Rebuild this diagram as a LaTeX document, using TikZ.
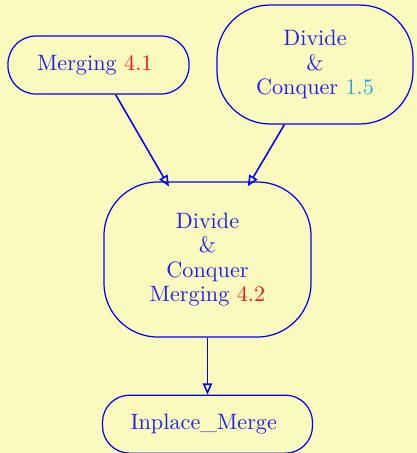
\documentclass[tikz,border=0pt]{standalone}
\usepackage{tikz}
\usepackage{xcolor}
\usetikzlibrary{arrows.meta, positioning}

\definecolor{bgyellow}{RGB}{250,250,190}
\definecolor{unitblue}{RGB}{30,30,245}
\definecolor{secred}{RGB}{240,25,25}
\definecolor{seccyan}{RGB}{25,170,230}

\begin{document}
\begin{tikzpicture}[
    x=0.45pt, y=-0.45pt,
    unit/.style={rectangle, draw=blue, line width=0.55pt, text=unitblue, align=center, inner sep=2pt, font=\fontsize{10}{11}\selectfont},
    arrow/.style={-{Triangle[open, length=5pt, width=4.2pt]}, draw=blue, line width=0.7pt},
]

% Background
\fill[bgyellow] (0,0) rectangle (417,453);
\useasboundingbox (0,0) rectangle (417,453);

% Merging 4.1
\node[unit, minimum width=81.5pt, minimum height=26.1pt, rounded corners=12.6pt] (merge41) at (98.5,65) {
    Merging \textcolor{secred}{4.1}
};

% Divide & Conquer 1.5
\node[unit, minimum width=88.2pt, minimum height=53.5pt, rounded corners=23.8pt] (dc15) at (315,64.5) {
    Divide\\
    \&\\
    Conquer \textcolor{seccyan}{1.5}
};

% Divide & Conquer Merging 4.2
\node[unit, minimum width=93.2pt, minimum height=69.8pt, rounded corners=24.3pt] (dc42) at (207.5,259.5) {
    Divide\\
    \&\\
    Conquer\\
    Merging \textcolor{secred}{4.2}
};

% Inplace_Merge
\node[unit, minimum width=94.5pt, minimum height=26.1pt, rounded corners=12.2pt, below=25.6pt of dc42] (inplace) {
    Inplace\_Merge
};

% Arrows
\draw[arrow, shorten >=-2.7pt] (merge41.-60) -- (dc42.118);
\draw[arrow, shorten >=-2.7pt] (dc15.-117) -- (dc42.61);
\draw[arrow] (dc42) -- (inplace);

\end{tikzpicture}
\end{document}
